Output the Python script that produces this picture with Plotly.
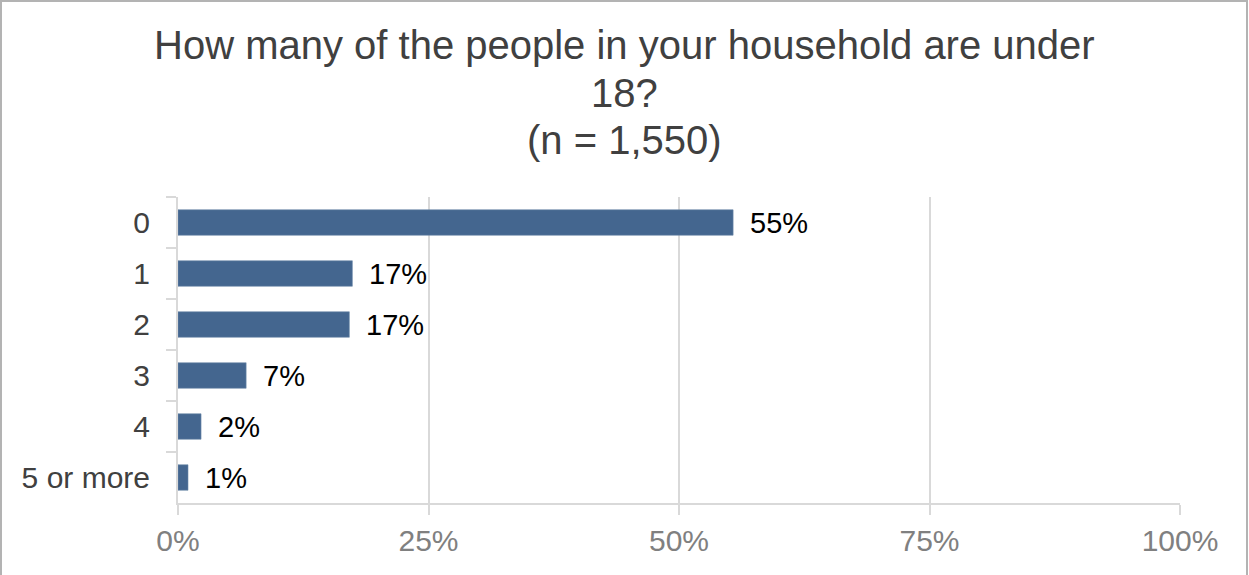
import plotly.graph_objects as go

# Survey responses: number of household members under 18
categories = ["0", "1", "2", "3", "4", "5 or more"]
shares = [55.4, 17.4, 17.1, 6.8, 2.3, 1.0]
x_ticks = [0, 25, 50, 75, 100]
x_tick_labels = ["0%", "25%", "50%", "75%", "100%"]
title_lines = ["How many of the people in your household are under", "18?", "(n = 1,550)"]

BAR_COLOR = "#44668f"
GRID_COLOR = "#d9d9d9"
FONT = "Liberation Sans"

# Plot area geometry in pixels (used to place paper-referenced items)
FIG_W, FIG_H = 1249, 575
M_L, M_R, M_T, M_B = 178, 69, 197, 72
PLOT_W = FIG_W - M_L - M_R
PLOT_H = FIG_H - M_T - M_B
TITLE_TOP, TITLE_LINE_STEP = 45, 47.5


def px_to_paper_x(px):
    return (px - M_L) / PLOT_W


def px_to_paper_y(py):
    return (FIG_H - M_B - py) / PLOT_H


fig = go.Figure()
fig.add_trace(go.Bar(
    x=shares,
    y=categories,
    orientation="h",
    marker=dict(color=BAR_COLOR, line=dict(color="#6f8bab", width=0.6)),
    width=0.5,
    hoverinfo="skip",
))

# Value labels to the right of each bar
for cat, val in zip(categories, shares):
    fig.add_annotation(
        x=val, y=cat, xref="x", yref="y",
        text=f"{val:.0f}%",
        showarrow=False, xanchor="left", yanchor="middle",
        xshift=15,
        font=dict(family=FONT, size=29, color="#000000"),
    )

# Chart title, three centred lines with tight line spacing
for i, line in enumerate(title_lines):
    fig.add_annotation(
        x=px_to_paper_x(FIG_W / 2), y=px_to_paper_y(TITLE_TOP + i * TITLE_LINE_STEP),
        xref="paper", yref="paper",
        text=line,
        showarrow=False, xanchor="center", yanchor="middle",
        font=dict(family=FONT, size=40, color="#404040"),
    )

# Light outer frame around the whole chart
fig.add_shape(
    type="rect", xref="paper", yref="paper",
    x0=px_to_paper_x(1), x1=px_to_paper_x(FIG_W - 2),
    y0=px_to_paper_y(FIG_H + 10), y1=px_to_paper_y(1),
    line=dict(color="#b3b3b3", width=2), fillcolor="rgba(0,0,0,0)",
    layer="below",
)

fig.update_layout(
    width=FIG_W,
    height=FIG_H,
    margin=dict(l=M_L, r=M_R, t=M_T, b=M_B),
    paper_bgcolor="white",
    plot_bgcolor="white",
    showlegend=False,
    xaxis=dict(
        range=[0, 100],
        tickvals=x_ticks,
        ticktext=x_tick_labels,
        showgrid=True,
        gridcolor=GRID_COLOR,
        gridwidth=2,
        zeroline=False,
        showline=True,
        linecolor=GRID_COLOR,
        linewidth=2,
        ticks="outside",
        ticklen=10,
        tickwidth=2,
        tickcolor=GRID_COLOR,
        tickfont=dict(family=FONT, size=30, color="#808080"),
        fixedrange=True,
    ),
    yaxis=dict(
        autorange="reversed",
        type="category",
        showgrid=False,
        zeroline=False,
        showline=True,
        linecolor=GRID_COLOR,
        linewidth=2,
        ticks="outside",
        tickson="boundaries",
        ticklen=10,
        tickwidth=2,
        tickcolor=GRID_COLOR,
        ticklabelstandoff=20,
        tickfont=dict(family=FONT, size=30, color="#404040"),
        fixedrange=True,
    ),
)

fig.write_html("out.html")
